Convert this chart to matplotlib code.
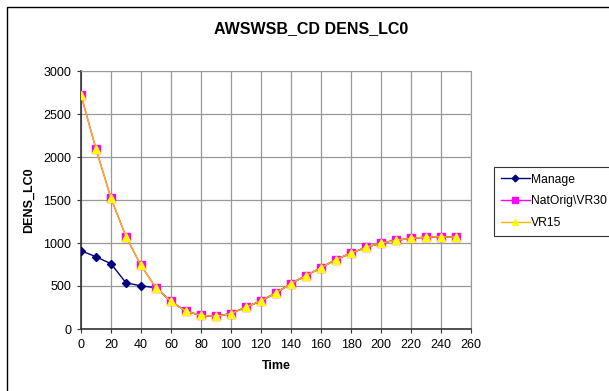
import matplotlib.pyplot as plt
from matplotlib.patches import Rectangle

plt.rcParams['font.family'] = ['Liberation Sans', 'DejaVu Sans']

time = [0, 10, 20, 30, 40, 50, 60, 70, 80, 90, 100, 110, 120, 130, 140, 150,
        160, 170, 180, 190, 200, 210, 220, 230, 240, 250]
manage = [910, 840, 759, 537, 502, 480, 320, 207, 158, 147, 180, 254, 328, 420, 529, 621,
          713, 808, 882, 949, 1000, 1031, 1054, 1068, 1072, 1068]
natorig = [2720, 2093, 1521, 1074, 739, 480, 320, 207, 158, 147, 180, 254, 328, 420, 529, 621,
           713, 808, 882, 949, 1000, 1031, 1054, 1068, 1072, 1068]
vr15 = list(natorig)

fig = plt.figure(figsize=(6.09, 3.91), dpi=100)
ax = fig.add_axes([81 / 609, 1 - 329 / 391, 390 / 609, 258 / 391])

ax.plot(time, manage, color='#000080', lw=1, marker='D', ms=4.5, label='Manage', zorder=3)
ax.plot(time, natorig, color='#FF00FF', lw=1, marker='s', ms=5.5, label='NatOrig\\VR30', zorder=4)
ax.plot(time, vr15, color='#F5B800', lw=1, marker='^', ms=5.5, mfc='#FFFF00', mec='#FFFF00',
        label='VR15', zorder=5)

ax.set_xlim(0, 260)
ax.set_ylim(0, 3000)
ax.set_xticks(range(0, 261, 20))
ax.set_yticks(range(0, 3001, 500))
ax.grid(True, color='#999999', lw=0.9)
ax.set_axisbelow(True)
ax.tick_params(labelsize=9, length=3, direction='out', color='#333333', pad=4)
for side in ['top', 'right']:
    ax.spines[side].set_color('#999999')
for side in ['left', 'bottom']:
    ax.spines[side].set_color('#333333')
    ax.spines[side].set_linewidth(1.2)

fig.text(311 / 609, 1 - 29 / 391, 'AWSWSB_CD DENS_LC0', fontsize=11.5, fontweight='bold',
         ha='center', va='center')
ax.set_xlabel('Time', fontsize=9, fontweight='bold', labelpad=7)
ax.set_ylabel('DENS_LC0', fontsize=9, fontweight='bold', labelpad=6)

leg = fig.legend(loc='upper left', bbox_to_anchor=(494 / 609, 1 - 167 / 391), fontsize=8.7,
                 frameon=True, fancybox=False, edgecolor='black', borderpad=0.55,
                 handlelength=2.4, labelspacing=0.8, handletextpad=0.1, borderaxespad=0,
                 markerscale=0.75)
leg.get_frame().set_linewidth(0.8)

fig.patches.append(Rectangle((7 / 609, -0.05), 1.1, 1 - 7 / 391 + 0.05, transform=fig.transFigure,
                             fill=False, edgecolor='black', lw=1))

fig.savefig('out.png', dpi=100)
